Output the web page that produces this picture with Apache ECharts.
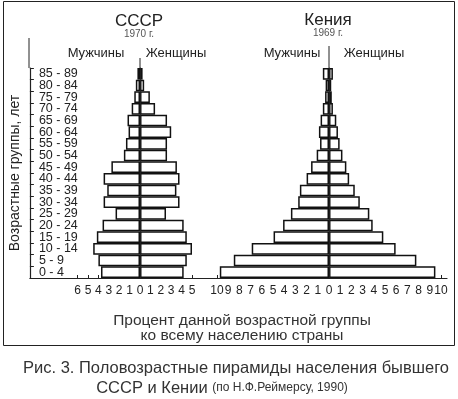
<!DOCTYPE html>
<html>
<head>
<meta charset="utf-8">
<script src="https://cdn.jsdelivr.net/npm/echarts@6/dist/echarts.min.js"></script>
<style>
html,body{margin:0;padding:0;background:#fff;}
#main{width:458px;height:399px;}
</style>
</head>
<body>
<div id="main"></div>
<script>
// age groups, bottom to top
var ages = ['0 - 4','5 - 9','10 - 14','15 - 19','20 - 24','25 - 29','30 - 34','35 - 39','40 - 44',
            '45 - 49','50 - 54','55 - 59','60 - 64','65 - 69','70 - 74','75 - 79','80 - 84','85 - 89'];
// % of total population
var ussrMen    = [3.75,4.0,4.5,4.15,3.6,2.35,3.5,3.15,3.5,2.75,1.55,1.35,1.1,1.2,0.8,0.55,0.4,0.25];
var ussrWomen  = [4.2,4.5,5.0,4.5,4.2,2.5,3.8,3.5,3.8,3.55,2.6,2.6,3.0,2.6,1.45,0.95,0.4,0.25];
var kenyaMen   = [9.75,8.5,6.9,4.95,4.1,3.4,2.75,2.6,2.0,1.6,1.1,0.8,0.9,0.75,0.55,0.35,0.3,0.55];
var kenyaWomen = [9.5,7.8,5.95,4.85,3.9,3.6,2.75,2.3,1.8,1.55,1.2,0.95,0.8,0.65,0.35,0.25,0.2,0.35];

var FONT = '"Liberation Sans", Arial, sans-serif';
var INK = '#222';

function neg(arr){ return arr.map(function(v){ return -v; }); }

var barStyle = { color: '#fff', borderColor: '#111', borderWidth: 1.5 };

function pyramidX(idx, min, max){
  return {
    type: 'value', gridIndex: idx, min: min, max: max, interval: 1,
    axisLine: { show: false },
    axisTick: { show: true, inside: true, length: 3, lineStyle: { color: INK } },
    axisLabel: { margin: 7, fontSize: 12, color: INK, fontFamily: FONT,
                 formatter: function(v){ return Math.abs(v); } },
    splitLine: { show: false }
  };
}
function pyramidY(idx){
  return {
    type: 'category', gridIndex: idx, data: ages,
    axisLine: { show: true, onZero: true, lineStyle: { color: INK, width: 0.8 } },
    axisTick: { show: false }, axisLabel: { show: false }, splitLine: { show: false }, z: 5
  };
}
function bars(idx, name, data){
  return { type: 'bar', name: name, xAxisIndex: idx, yAxisIndex: idx, stack: 's' + idx,
           data: data, barCategoryGap: '0%', itemStyle: barStyle, silent: true };
}

var chart = echarts.init(document.getElementById('main'));
chart.setOption({
  animation: false,
  textStyle: { fontFamily: FONT },
  grid: [
    { left: 29, right: 11, top: 68, height: 210 },
    { left: 77.6, width: 114.4, top: 68, height: 210 },
    { left: 217, width: 224, top: 68, height: 210 }
  ],
  xAxis: [
    { type: 'value', gridIndex: 0, min: 0, max: 1,
      axisLine: { show: true, onZero: false, lineStyle: { color: INK, width: 1.2 } },
      axisTick: { show: false }, axisLabel: { show: false }, splitLine: { show: false } },
    pyramidX(1, -6, 5),
    pyramidX(2, -10, 10)
  ],
  yAxis: [
    { type: 'category', gridIndex: 0, data: ages,
      name: 'Возрастные группы, лет', nameLocation: 'middle', nameRotate: 90, nameGap: 2,
      nameTextStyle: { fontSize: 14, color: INK, fontFamily: FONT },
      axisLine: { show: true, lineStyle: { color: INK, width: 1.2 } },
      axisTick: { show: true, inside: true, length: 4, lineStyle: { color: INK } },
      axisLabel: { inside: true, interval: 0, margin: 9, fontSize: 12.5, color: INK, fontFamily: FONT,
                   padding: [3, 0, 0, 0] },
      splitLine: { show: false } },
    pyramidY(1),
    pyramidY(2)
  ],
  series: [
    bars(1, 'Мужчины', neg(ussrMen)),
    bars(1, 'Женщины', ussrWomen),
    bars(2, 'Мужчины', neg(kenyaMen)),
    bars(2, 'Женщины', kenyaWomen)
  ]
});

var ux = chart.convertToPixel({ xAxisIndex: 1 }, 0);
var kx = chart.convertToPixel({ xAxisIndex: 2 }, 0);

function txt(text, x, y, size, color){
  return { type: 'text', silent: true,
           style: { text: text, x: x, y: y, fontSize: size, fill: color || INK, fontFamily: FONT,
                    textAlign: 'center', textVerticalAlign: 'middle' } };
}
function line(x1, y1, x2, y2){
  return { type: 'line', shape: { x1: x1, y1: y1, x2: x2, y2: y2 },
           style: { stroke: INK, lineWidth: 1 }, silent: true };
}

chart.setOption({
  graphic: [
    { type: 'rect', shape: { x: 3.5, y: 1.5, width: 451, height: 344 },
      style: { fill: 'none', stroke: INK, lineWidth: 1 }, silent: true },
    line(29, 38, 29, 68),
    line(ux, 58, ux, 68),
    line(kx, 46, kx, 68),
    txt('СССР', 139, 21, 17),
    txt('1970 г.', 139, 34, 10, '#555'),
    txt('Мужчины', 96, 53, 13),
    txt('Женщины', 176, 53, 13),
    txt('Кения', 328, 20, 17),
    txt('1969 г.', 328, 33, 10, '#555'),
    txt('Мужчины', 292, 53, 13),
    txt('Женщины', 374, 53, 13),
    txt('Процент данной возрастной группы', 242, 321, 15.5, '#333'),
    txt('ко всему населению страны', 242, 336, 15.5, '#333'),
    txt('Рис. 3. Половозрастные пирамиды населения бывшего', 236, 368, 16.5, '#333'),
    { type: 'text', silent: true, style: {
        text: '{a|СССР и Кении }{b|(по Н.Ф.Реймерсу, 1990)}', x: 222, y: 388,
        textAlign: 'center', textVerticalAlign: 'middle',
        rich: { a: { fontSize: 16.5, fontFamily: FONT, fill: '#333' },
                b: { fontSize: 12, fontFamily: FONT, fill: '#333' } } } }
  ]
});
</script>
</body>
</html>
